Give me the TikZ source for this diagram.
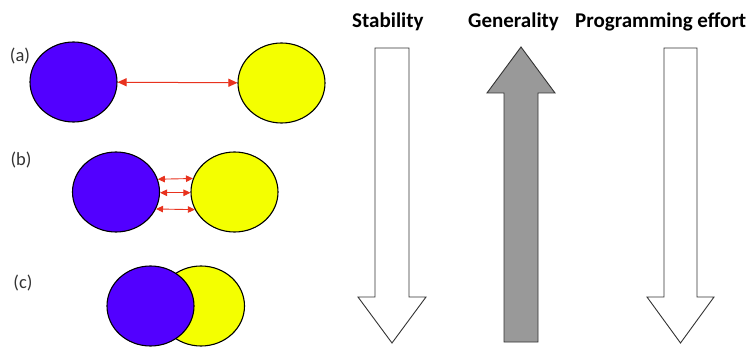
\documentclass[tikz,border=0pt]{standalone}
\usepackage{fontspec}
\newfontfamily\calib{Carlito}
\usetikzlibrary{shapes.geometric,arrows.meta}
\definecolor{ballblue}{HTML}{5200FF}
\definecolor{ballyellow}{HTML}{F4FF00}
\definecolor{linkred}{HTML}{E8321E}
\definecolor{blockgray}{HTML}{999999}
\tikzset{
  ball/.style={ellipse, draw=black, line width=1.1pt, inner sep=0pt,
    minimum width=87pt, minimum height=80pt},
  blueball/.style={ball, fill=ballblue},
  yellowball/.style={ball, fill=ballyellow},
  caselabel/.style={font=\calib\fontsize{18.5}{18.5}\selectfont, text=black!80, inner sep=0pt},
  header/.style={font=\calib\bfseries\fontsize{21}{21}\selectfont, anchor=base west, inner sep=0pt},
  link/.style={draw=linkred, line width=1pt, {Triangle[length=9pt,width=8pt]}-{Triangle[length=9pt,width=8pt]}},
  smalllink/.style={draw=linkred, line width=0.9pt, {Triangle[length=7pt,width=6.5pt]}-{Triangle[length=7pt,width=6.5pt]}},
  block/.style={draw=black!80, line width=0.9pt, line join=miter}
}
\begin{document}
\begin{tikzpicture}[x=1pt,y=-1pt]
  \useasboundingbox (0,0) rectangle (755,347);
  \fill[white] (0,0) rectangle (755,347);

  % case (a): far apart
  \node[caselabel] (la) at (20,56) {(a)};
  \node[blueball] (a1) at (73.5,82) {};
  \node[yellowball] (a2) at (281.5,83) {};
  \draw[link] (a1) -- (a2);

  % case (b): close together, several links
  \node[caselabel] (lb) at (21,160) {(b)};
  \node[blueball] (b1) at (116,192) {};
  \node[yellowball] (b2) at (234.5,192) {};
  \draw[smalllink] (b1.17.7) -- (b2.162.4);
  \draw[smalllink] (b1.-1) -- (b2.181);
  \draw[smalllink] (b1.-23.6) -- (b2.-156.6);

  % case (c): overlapping
  \node[caselabel] (lc) at (23,283) {(c)};
  \node[yellowball] (c2) at (201,306) {};
  \node[blueball] (c1) at (150.5,306) {};

  % column headers
  \node[header] (hs) at (352,28) {Stability};
  \node[header] (hg) at (468,28) {Generality};
  \node[header] (hp) at (575,28) {Programming effort};

  % block arrows
  \draw[block, fill=white] (375,48) -- (409,48) -- (409,297) -- (426,297)
    -- (392,343) -- (358,297) -- (375,297) -- cycle;
  \draw[block, fill=blockgray] (504,342) -- (538,342) -- (538,93) -- (555,93)
    -- (521,47) -- (487,93) -- (504,93) -- cycle;
  \draw[block, fill=white] (664,48) -- (697,48) -- (697,297) -- (714,297)
    -- (680.5,343) -- (647,297) -- (664,297) -- cycle;
\end{tikzpicture}
\end{document}
